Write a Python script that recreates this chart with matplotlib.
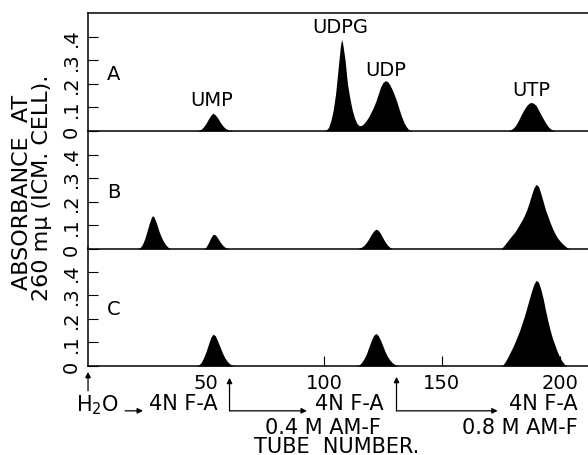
import matplotlib
matplotlib.use('Agg')
import matplotlib.pyplot as plt

plt.rcParams['font.family'] = ['DejaVu Sans']
plt.rcParams['mathtext.fontset'] = 'dejavusans'

# absorbance readings per tube

tube_a = [46, 47, 48, 49, 50, 51, 52, 53, 54, 55, 56, 57, 58, 59, 60, 62,
          100, 101, 102, 103, 104, 105, 106, 107, 107.5, 108, 109, 110, 111, 112, 113, 114,
          115, 116, 117, 118, 119, 120, 121, 122, 123, 124, 125, 126, 127, 128, 129, 130,
          131, 132, 133, 134, 135, 136, 137,
          178, 179, 180, 181, 182, 183, 184, 185, 186, 187, 188, 189, 190, 191, 192, 193,
          194, 195, 196, 197, 198]
abs_a = [0, 0.003, 0.008, 0.018, 0.032, 0.05, 0.066, 0.076, 0.068, 0.055, 0.038, 0.024, 0.013, 0.007, 0.003, 0,
         0, 0.004, 0.015, 0.045, 0.09, 0.16, 0.26, 0.36, 0.388, 0.37, 0.3, 0.2, 0.14, 0.09, 0.055, 0.032,
         0.022, 0.024, 0.032, 0.045, 0.06, 0.08, 0.1, 0.125, 0.155, 0.185, 0.205, 0.213, 0.21, 0.195, 0.175, 0.15,
         0.122, 0.09, 0.06, 0.035, 0.018, 0.006, 0,
         0, 0.004, 0.01, 0.02, 0.035, 0.055, 0.075, 0.093, 0.108, 0.118, 0.121, 0.117, 0.108, 0.09, 0.07, 0.052,
         0.035, 0.02, 0.01, 0.004, 0]

tube_b = [21, 22, 23, 24, 25, 26, 27, 27.5, 28, 29, 30, 31, 32, 33, 34, 35,
          49, 50, 51, 52, 53, 54, 55, 56, 57, 58, 59, 60,
          114, 115, 116, 117, 118, 119, 120, 121, 122, 123, 124, 125, 126, 127, 128, 129,
          175, 176, 177, 178, 179, 180, 181, 182, 183, 184, 185, 186, 187, 188, 189, 190,
          191, 192, 193, 194, 195, 196, 197, 198, 199, 200, 201, 202, 203, 204]
abs_b = [0, 0.005, 0.018, 0.042, 0.075, 0.11, 0.137, 0.141, 0.135, 0.11, 0.078, 0.052, 0.032, 0.017, 0.007, 0,
         0, 0.008, 0.025, 0.047, 0.062, 0.06, 0.046, 0.03, 0.017, 0.008, 0.003, 0,
         0, 0.003, 0.008, 0.015, 0.027, 0.042, 0.06, 0.075, 0.084, 0.08, 0.066, 0.047, 0.03, 0.016, 0.007, 0,
         0, 0.01, 0.022, 0.035, 0.048, 0.06, 0.072, 0.088, 0.105, 0.122, 0.142, 0.165, 0.195, 0.228, 0.258, 0.274,
         0.265, 0.235, 0.2, 0.165, 0.138, 0.11, 0.086, 0.065, 0.048, 0.035, 0.024, 0.015, 0.007, 0]

tube_c = [46, 47, 48, 49, 50, 51, 52, 53, 54, 55, 56, 57, 58, 59, 60, 61, 62,
          114, 115, 116, 117, 118, 119, 120, 121, 122, 123, 124, 125, 126, 127, 128, 129, 130, 131, 132,
          175, 176, 177, 178, 179, 180, 181, 182, 183, 184, 185, 186, 187, 188, 189, 190,
          191, 192, 193, 194, 195, 196, 197, 198, 199, 200, 201, 202, 203]
abs_c = [0, 0.005, 0.015, 0.035, 0.06, 0.09, 0.12, 0.135, 0.128, 0.105, 0.08, 0.055, 0.035, 0.02, 0.01, 0.004, 0,
         0, 0.005, 0.015, 0.03, 0.05, 0.078, 0.105, 0.128, 0.138, 0.13, 0.11, 0.085, 0.06, 0.04, 0.025, 0.014, 0.007, 0.002, 0,
         0, 0.005, 0.02, 0.038, 0.058, 0.078, 0.1, 0.125, 0.15, 0.18, 0.21, 0.245, 0.28, 0.315, 0.345, 0.363,
         0.355, 0.325, 0.285, 0.235, 0.19, 0.15, 0.115, 0.088, 0.06, 0.038, 0.02, 0.008, 0]

panel_letters = ['A', 'B', 'C']
y_ticks = [0, 0.1, 0.2, 0.3, 0.4]
y_ticklabels = ['0', '.1', '.2', '.3', '.4']
x_ticks = [50, 100, 150, 200]

peak_names = ['UMP', 'UDPG', 'UDP', 'UTP']
peak_label_x = [52.5, 106.8, 126.1, 188.1]
peak_label_y = [0.135, 0.443, 0.262, 0.177]


fig = plt.figure(figsize=(5.88, 4.56), dpi=100)

bottoms = [0.7105, 0.4518, 0.1952]
panels = [(tube_a, abs_a), (tube_b, abs_b), (tube_c, abs_c)]
axes = []
for i, (tubes, vals) in enumerate(panels):
    ax = fig.add_axes([0.1497, bottoms[i], 0.8503, 0.2588])
    ax.patch.set_visible(False)
    ax.fill_between(tubes, 0, vals, color='black', linewidth=0)
    ax.set_xlim(0, 212)
    ax.set_ylim(0, 0.5)
    for s in ['top', 'right', 'left', 'bottom']:
        ax.spines[s].set_linewidth(1.1)
    ax.spines['right'].set_visible(False)
    if i > 0:
        ax.spines['top'].set_visible(False)
    ax.set_yticks(y_ticks)
    ax.set_yticklabels(y_ticklabels, rotation=90, va='center', fontsize=14)
    ax.tick_params(axis='y', direction='in', length=7, width=0.8, pad=5)
    if i < 2:
        ax.set_xticks([])
    else:
        ax.set_xticks(x_ticks)
        ax.set_xticklabels([str(t) for t in x_ticks], fontsize=14)
        ax.tick_params(axis='x', direction='in', length=7, width=0.8, pad=5)
    ax.text(11, 0.245, panel_letters[i], fontsize=14, ha='center', va='center')
    axes.append(ax)

ax_a, ax_b, ax_c = axes

for name, x, y in zip(peak_names, peak_label_x, peak_label_y):
    ax_a.text(x, y, name, fontsize=14, ha='center', va='center')

# y axis label, two lines
fig.text(0.037, 0.578, 'ABSORBANCE  AT', rotation=90, fontsize=16,
         ha='center', va='center')
fig.text(0.072, 0.588, '260 m\u03bc (ICM. CELL).', rotation=90, fontsize=16,
         ha='center', va='center')

# solvent program under the tube axis
arr = dict(arrowstyle='-|>', color='black', lw=0.9, mutation_scale=8, shrinkA=0, shrinkB=0)
ax_c.annotate('', xy=(0, -0.025), xytext=(0, -0.105), arrowprops=arr, annotation_clip=False)
ax_c.text(4.0, -0.16, 'H$_2$O', fontsize=15, ha='center', va='center')
ax_c.annotate('', xy=(23.3, -0.19), xytext=(15.7, -0.19), arrowprops=arr, annotation_clip=False)
ax_c.text(40.5, -0.156, '4N F-A', fontsize=15, ha='center', va='center')

ax_c.annotate('', xy=(60, -0.05), xytext=(60, -0.19), arrowprops=arr, annotation_clip=False)
ax_c.annotate('', xy=(92.8, -0.19), xytext=(60, -0.19), arrowprops=arr, annotation_clip=False)
ax_c.text(110.6, -0.156, '4N F-A', fontsize=15, ha='center', va='center')
ax_c.text(99.6, -0.257, '0.4 M AM-F', fontsize=15, ha='center', va='center')

ax_c.annotate('', xy=(130.8, -0.046), xytext=(130.8, -0.19), arrowprops=arr, annotation_clip=False)
ax_c.annotate('', xy=(173.7, -0.19), xytext=(130.8, -0.19), arrowprops=arr, annotation_clip=False)
ax_c.text(193, -0.156, '4N F-A', fontsize=15, ha='center', va='center')
ax_c.text(183, -0.257, '0.8 M AM-F', fontsize=15, ha='center', va='center')

ax_c.text(105.5, -0.338, 'TUBE  NUMBER.', fontsize=15, ha='center', va='center')

fig.savefig('out.png', dpi=100)
